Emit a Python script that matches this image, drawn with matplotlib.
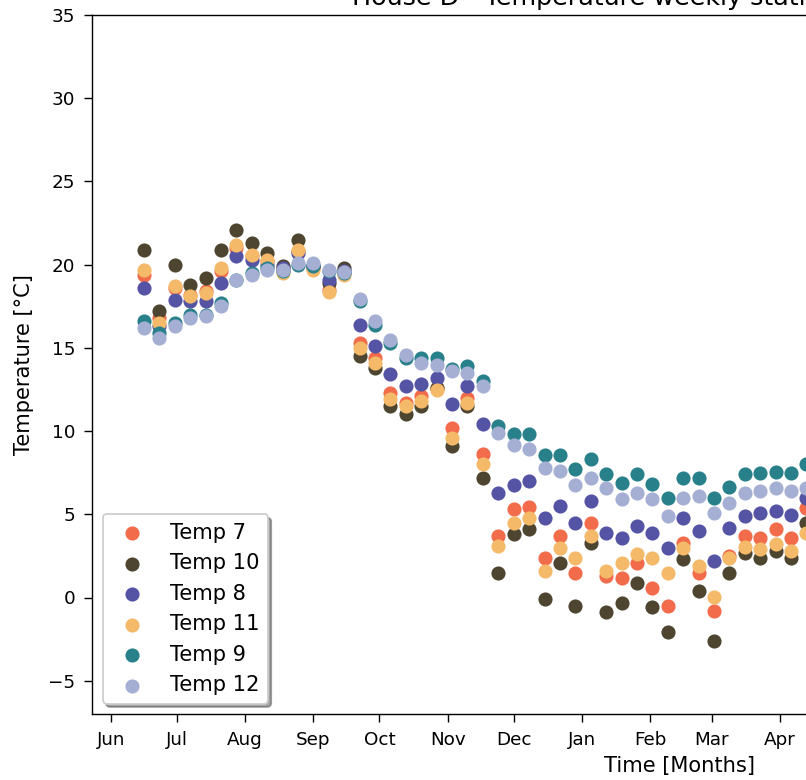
import matplotlib
matplotlib.use('Agg')
import matplotlib.pyplot as plt
import matplotlib.dates as mdates
import pandas as pd

# weekly sampling dates
start_date = '2017-06-16'
n_weeks = 44
dates = pd.date_range(start_date, periods=n_weeks, freq='7D')

temp_7 = [19.4, 16.8, 18.6, 18.2, 18.4, 19.6, 21.0, 20.5, 20.2, 19.7, 20.8, 19.8, 18.5, 19.5,
          15.3, 14.4, 12.3, 11.7, 12.1, 12.6, 10.2, 12.0, 8.65, 3.7, 5.3, 5.45, 2.35, 3.7,
          1.45, 4.5, 1.3, 1.2, 2.1, 0.6, -0.5, 3.25, 1.45, -0.8, 2.5, 3.7, 3.6, 4.1, 3.55, 5.35]
temp_10 = [20.9, 17.2, 20.0, 18.8, 19.2, 20.9, 22.1, 21.3, 20.7, 19.9, 21.5, 19.9, 18.9, 19.8,
           14.5, 13.8, 11.5, 11.05, 11.5, 12.6, 9.1, 11.5, 7.2, 1.45, 3.8, 4.1, -0.1, 2.05,
           -0.5, 3.25, -0.85, -0.35, 0.9, -0.6, -2.1, 2.3, 0.4, -2.6, 1.45, 2.65, 2.4, 2.8, 2.35, 4.5]
temp_8 = [18.6, 16.3, 17.9, 17.8, 17.8, 18.9, 20.5, 20.3, 20.0, 19.8, 20.7, 19.9, 19.05, 19.6,
          16.35, 15.1, 13.4, 12.7, 12.85, 13.2, 11.65, 12.7, 10.45, 6.25, 6.75, 7.0, 4.8, 5.5,
          4.45, 5.8, 3.85, 3.55, 4.3, 3.85, 3.0, 4.75, 4.0, 2.2, 4.15, 4.9, 5.05, 5.2, 4.95, 5.95]
temp_11 = [19.7, 16.5, 18.7, 18.1, 18.3, 19.8, 21.2, 20.6, 20.3, 19.5, 20.9, 19.7, 18.35, 19.4,
           15.0, 14.1, 11.95, 11.5, 11.8, 12.45, 9.6, 11.7, 8.05, 3.1, 4.5, 4.8, 1.6, 3.0,
           2.35, 3.7, 1.6, 2.05, 2.6, 2.35, 1.45, 3.0, 1.9, 0.05, 2.35, 3.05, 2.9, 3.2, 2.8, 3.9]
temp_9 = [16.6, 15.9, 16.5, 17.0, 17.0, 17.7, 19.1, 19.5, 19.8, 19.6, 20.0, 19.9, 19.6, 19.5,
          17.8, 16.4, 15.3, 14.4, 14.4, 14.4, 13.75, 13.9, 13.0, 10.3, 9.85, 9.8, 8.55, 8.55,
          7.7, 8.35, 7.45, 6.9, 7.4, 6.8, 5.95, 7.2, 7.2, 6.0, 6.65, 7.45, 7.5, 7.55, 7.5, 8.05]
temp_12 = [16.2, 15.6, 16.3, 16.8, 16.9, 17.5, 19.05, 19.4, 19.7, 19.7, 20.1, 20.1, 19.7, 19.55,
           17.95, 16.6, 15.5, 14.55, 14.1, 13.95, 13.6, 13.5, 12.7, 9.9, 9.15, 8.9, 7.8, 7.6,
           6.75, 7.2, 6.6, 5.9, 6.25, 5.9, 4.9, 6.0, 6.1, 5.05, 5.65, 6.25, 6.4, 6.55, 6.4, 6.6]

series_labels = ['Temp 7', 'Temp 10', 'Temp 8', 'Temp 11', 'Temp 9', 'Temp 12']
series_values = [temp_7, temp_10, temp_8, temp_11, temp_9, temp_12]
series_colors = ['#F26B4A', '#4E4530', '#5553A3', '#F4BA6A', '#28808A', '#A5AFD3']

DPI = 126
fig = plt.figure(figsize=(806 / DPI, 780 / DPI), dpi=DPI)
# the axes run past the right edge of the picture
ax = fig.add_axes([92 / 806, 1 - 714 / 780, 1174 / 806, 699 / 780])

for label, vals, col in zip(series_labels, series_values, series_colors):
    ax.scatter(dates, vals, s=50, color=col, label=label)

x0 = pd.Timestamp('2017-05-23 09:00')
ax.set_xlim(x0, x0 + pd.Timedelta(days=1174 / 2.2007))
ax.set_ylim(-7, 35)
ax.xaxis.set_major_locator(mdates.MonthLocator())
ax.xaxis.set_major_formatter(mdates.DateFormatter('%b'))
ax.tick_params(labelsize=10.5, length=4.5, pad=5)

ax.set_xlabel('Time [Months]', fontsize=12)
ax.set_ylabel('Temperature [°C]', fontsize=12, labelpad=8)
ax.set_title('House D - Temperature weekly statistics', fontsize=14.5,
             loc='left', x=(352 - 92) / 1174)

ax.legend(loc='lower left', fontsize=12, shadow=True, framealpha=1)

fig.savefig('out.png', dpi=DPI)
